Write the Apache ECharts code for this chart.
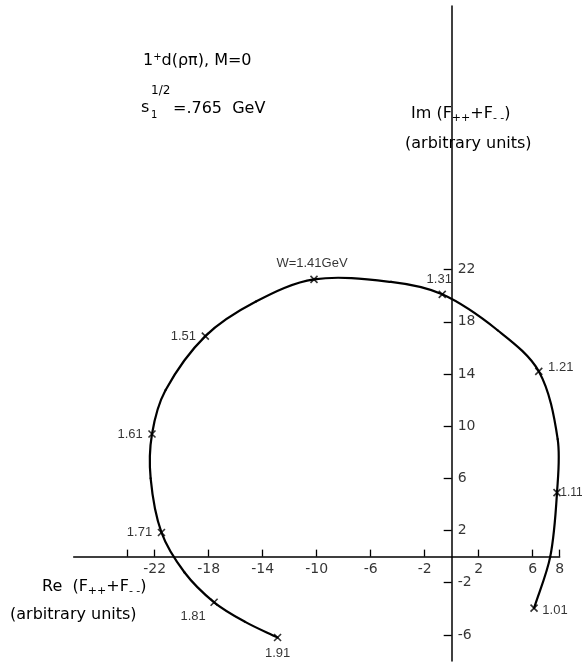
<!DOCTYPE html>
<html>
<head>
<meta charset="utf-8">
<script src="https://cdn.jsdelivr.net/npm/echarts@6/dist/echarts.min.js"></script>
<style>
  html, body { margin: 0; padding: 0; background: #fff; }
  #chart { width: 582px; height: 665px; }
</style>
</head>
<body>
<div id="chart"></div>
<script>
// Argand plot of the 1+ d(rho pi) amplitude, M = 0: Re vs Im of (F++ + F--)

// energies marked on the trajectory (GeV) and their positions
const energyLabels = ['1.01', '1.11', '1.21', '1.31', 'W=1.41GeV', '1.51', '1.61', '1.71', '1.81', '1.91'];
const markRe = [6.1, 7.8, 6.45, -0.7, -10.2, -18.25, -22.2, -21.5, -17.6, -12.9];
const markIm = [-3.95, 4.9, 14.2, 20.1, 21.25, 16.9, 9.4, 1.85, -3.5, -6.2];

// the continuous trajectory, traced from 1.01 to 1.91 GeV
const curveRe = [6.1, 7.3, 7.8, 7.85, 6.45, 3.4, -0.7, -4.5, -10.2, -14.5, -18.25, -21.2, -22.2, -22.3,
  -21.5, -19.8, -17.6, -15.3, -12.9];
const curveIm = [-3.95, 0.0, 4.9, 9.0, 14.2, 17.35, 20.1, 21.05, 21.25, 19.55, 16.9, 12.75, 9.4, 6.0,
  1.85, -1.2, -3.5, -5.0, -6.2];

// axis ticks and labels
const reTicks = [-24, -22, -18, -14, -10, -6, -2, 2, 6, 8];
const reTickLabels = [-22, -18, -14, -10, -6, -2, 2, 6, 8];
const imTicks = [-6, -2, 2, 6, 10, 14, 18, 22];
const imTickLabels = [-6, -2, 2, 6, 10, 14, 18, 22];

const FONT = 'DejaVu Sans';
const LABEL_FONT = "'Liberation Sans', sans-serif";

// where each energy label sits around its cross
const labelPlace = [
  { position: 'right', distance: 4, offset: [0, 2] },
  { position: 'right', distance: 0, offset: [-1, 0], fontSize: 12 },
  { position: 'right', distance: 5, offset: [0, -4] },
  { position: 'top', distance: 4, offset: [-3, 0] },
  { position: 'top', distance: 5, offset: [-2, 0] },
  { position: 'left', distance: 5, offset: [0, 0] },
  { position: 'left', distance: 5, offset: [0, 0] },
  { position: 'left', distance: 5, offset: [0, 0] },
  { position: 'left', distance: 4, offset: [0, 14] },
  { position: 'bottom', distance: 5, offset: [0, 0] }
];

const curveData = curveRe.map((x, i) => [x, curveIm[i]]);
const markData = markRe.map((x, i) => ({
  value: [x, markIm[i]],
  name: energyLabels[i],
  label: labelPlace[i]
}));

// tick labels sit on the zero lines of the two axes
const reLabelData = reTickLabels.map(v => ({ value: [v, 0], name: String(v) }));
const imLabelData = imTickLabels.map(v => ({ value: [0, v], name: String(v) }));

// one cubic piece per data interval (chord-weighted Catmull-Rom tangents)
function renderCurvePiece(params, api) {
  const i = params.dataIndex;
  const n = curveData.length;
  if (i >= n - 1) return null;
  const P = j => api.coord(curveData[Math.max(0, Math.min(n - 1, j))]);
  const p0 = P(i - 1), p1 = P(i), p2 = P(i + 1), p3 = P(i + 2);
  const d = (a, b) => Math.hypot(b[0] - a[0], b[1] - a[1]) || 1e-6;
  const d01 = d(p0, p1), d12 = d(p1, p2), d23 = d(p2, p3);
  const k1 = d12 / (d01 + d12) / 3;
  const k2 = d12 / (d12 + d23) / 3;
  const c1 = [p1[0] + (p2[0] - p0[0]) * k1, p1[1] + (p2[1] - p0[1]) * k1];
  const c2 = [p2[0] - (p3[0] - p1[0]) * k2, p2[1] - (p3[1] - p1[1]) * k2];
  return {
    type: 'bezierCurve',
    shape: { x1: p1[0], y1: p1[1], x2: p2[0], y2: p2[1], cpx1: c1[0], cpy1: c1[1], cpx2: c2[0], cpy2: c2[1] },
    style: { stroke: '#000', lineWidth: 2.2, fill: null, lineCap: 'round' }
  };
}

const chart = echarts.init(document.getElementById('chart'), null, { renderer: 'canvas' });

const subRich = {
  sub: { fontFamily: FONT, fontSize: 11, verticalAlign: 'bottom', lineHeight: 20 },
  n: { fontFamily: FONT, fontSize: 16, lineHeight: 20 }
};

chart.setOption({
  backgroundColor: '#ffffff',
  animation: false,
  grid: { left: 73.7, right: 22.3, top: 6, bottom: 4, containLabel: false, outerBoundsMode: 'none' },
  xAxis: {
    type: 'value',
    min: -28,
    max: 8,
    axisLine: { onZero: true, lineStyle: { color: '#000', width: 1.5 } },
    splitLine: { show: false },
    axisTick: { show: true, inside: true, length: 7, customValues: reTicks, lineStyle: { color: '#000', width: 1.3 } },
    axisLabel: { show: false }
  },
  yAxis: {
    type: 'value',
    min: -8,
    max: 42.2,
    axisLine: { onZero: true, lineStyle: { color: '#000', width: 1.5 } },
    splitLine: { show: false },
    axisTick: { show: true, inside: false, length: 8, customValues: imTicks, lineStyle: { color: '#000', width: 1.3 } },
    axisLabel: { show: false }
  },
  series: [
    {
      type: 'custom',
      data: curveData,
      renderItem: renderCurvePiece,
      clip: false,
      silent: true,
      z: 2
    },
    {
      type: 'scatter',
      data: markData,
      symbol: 'path://M0,0L10,10M10,0L0,10',
      symbolSize: 7,
      itemStyle: { color: 'transparent', borderColor: '#000', borderWidth: 1.6 },
      label: {
        show: true,
        formatter: p => p.name,
        color: '#000',
        fontSize: 13,
        fontFamily: LABEL_FONT
      },
      z: 3
    },
    {
      type: 'scatter',
      data: reLabelData,
      symbolSize: 0,
      silent: true,
      label: {
        show: true, position: 'bottom', distance: 6,
        formatter: p => p.name, color: '#000', fontSize: 14, fontFamily: FONT
      }
    },
    {
      type: 'scatter',
      data: imLabelData,
      symbolSize: 0,
      silent: true,
      label: {
        show: true, position: 'right', distance: 6,
        formatter: p => p.name, color: '#000', fontSize: 14, fontFamily: FONT
      }
    }
  ],
  graphic: [
    {
      type: 'text', left: 143, top: 52,
      style: {
        text: '1{sup|+}d(ρπ), M=0',
        fontFamily: FONT, fontSize: 16, fill: '#000',
        rich: { sup: { fontFamily: FONT, fontSize: 10, verticalAlign: 'top', lineHeight: 18 } }
      }
    },
    { type: 'text', left: 141, top: 100, style: { text: 's', fontFamily: FONT, fontSize: 16, fill: '#000' } },
    { type: 'text', left: 151, top: 85, style: { text: '1/2', fontFamily: FONT, fontSize: 12, fill: '#000' } },
    { type: 'text', left: 151, top: 110, style: { text: '1', fontFamily: FONT, fontSize: 10, fill: '#000' } },
    { type: 'text', left: 173, top: 101, style: { text: '=.765  GeV', fontFamily: FONT, fontSize: 16, fill: '#000' } },
    {
      type: 'text', left: 411, top: 106,
      style: { text: '{n|Im (F}{sub|++}{n|+F}{sub|- -}{n|)}', fill: '#000', rich: subRich }
    },
    { type: 'text', left: 405, top: 136, style: { text: '(arbitrary units)', fontFamily: FONT, fontSize: 16, fill: '#000' } },
    {
      type: 'text', left: 42, top: 579,
      style: { text: '{n|Re  (F}{sub|++}{n|+F}{sub|- -}{n|)}', fill: '#000', rich: subRich }
    },
    { type: 'text', left: 10, top: 607, style: { text: '(arbitrary units)', fontFamily: FONT, fontSize: 16, fill: '#000' } }
  ]
});
</script>
</body>
</html>
